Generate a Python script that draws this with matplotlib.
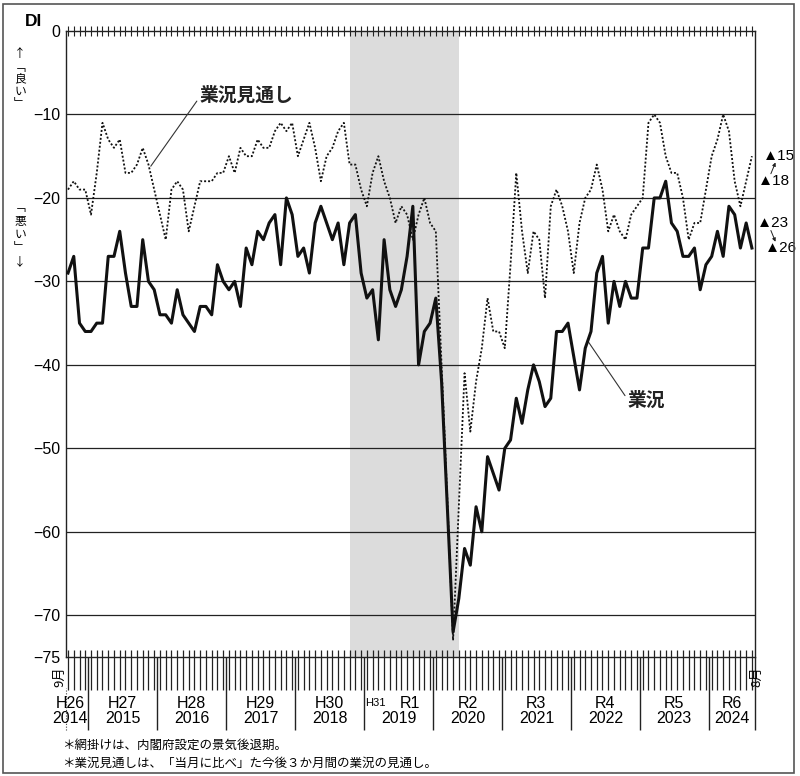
import matplotlib
matplotlib.use("Agg")
import matplotlib.pyplot as plt
from matplotlib import font_manager
from matplotlib.patches import Rectangle
import numpy as np

# 業況DI（2014年9月〜2024年8月、月次）
gyokyo = [-29, -27, -35, -36, -36, -35, -35, -27, -27, -24, -29, -33,
          -33, -25, -30, -31, -34, -34, -35, -31, -34, -35, -36, -33,
          -33, -34, -28, -30, -31, -30, -33, -26, -28, -24, -25, -23,
          -22, -28, -20, -22, -27, -26, -29, -23, -21, -23, -25, -23,
          -28, -23, -22, -29, -32, -31, -37, -25, -31, -33, -31, -27,
          -21, -40, -36, -35, -32, -42, -57, -72, -68, -62, -64, -57,
          -60, -51, -53, -55, -50, -49, -44, -47, -43, -40, -42, -45,
          -44, -36, -36, -35, -39, -43, -38, -36, -29, -27, -35, -30,
          -33, -30, -32, -32, -26, -26, -20, -20, -18, -23, -24, -27,
          -27, -26, -31, -28, -27, -24, -27, -21, -22, -26, -23, -26]

# 業況見通しDI
mitoshi = [-19, -18, -19, -19, -22, -17, -11, -13, -14, -13, -17, -17,
           -16, -14, -16, -19, -22, -25, -19, -18, -19, -24, -21, -18,
           -18, -18, -17, -17, -15, -17, -14, -15, -15, -13, -14, -14,
           -12, -11, -12, -11, -15, -13, -11, -14, -18, -15, -14, -12,
           -11, -16, -16, -19, -21, -17, -15, -18, -20, -23, -21, -22,
           -25, -22, -20, -23, -24, -40, -56, -73, -57, -41, -48, -42,
           -38, -32, -36, -36, -38, -28, -17, -24, -29, -24, -25, -32,
           -21, -19, -21, -24, -29, -23, -20, -19, -16, -19, -24, -22,
           -24, -25, -22, -21, -20, -11, -10, -11, -15, -17, -17, -20,
           -25, -23, -23, -19, -15, -13, -10, -12, -18, -21, -18, -15]

start_year, start_month = 2014, 9
recession = [(2018, 10), (2020, 5)]   # 内閣府設定の景気後退期
yticks = [0, -10, -20, -30, -40, -50, -60, -70, -75]
years = [2014, 2015, 2016, 2017, 2018, 2019, 2020, 2021, 2022, 2023, 2024]
eras = ["H26", "H27", "H28", "H29", "H30", "R1", "R2", "R3", "R4", "R5", "R6"]
notes = ["＊網掛けは、内閣府設定の景気後退期。",
         "＊業況見通しは、「当月に比べ」た今後３か月間の業況の見通し。"]


def pick(*names):
    for n in names:
        try:
            font_manager.findfont(n, fallback_to_default=False)
            return n
        except ValueError:
            pass
    return "DejaVu Sans"


jp = "Noto Sans CJK JP"
num = [pick("Liberation Sans Narrow", "Liberation Sans"), jp, "DejaVu Sans"]
plt.rcParams["font.family"] = [jp, "DejaVu Sans"]


def idx(y, m):
    return (y - start_year) * 12 + (m - start_month)


n = len(gyokyo)
x = np.arange(n)
year_of = (start_month - 1 + x) // 12 + start_year

fig = plt.figure(figsize=(8, 7.76), dpi=100)
ax = fig.add_axes([66 / 800, 1 - 657 / 776, 688.5 / 800, 626 / 776])
ax.set_xlim(-0.35, n - 0.55)
ax.set_ylim(-75, 0)

ax.axvspan(idx(*recession[0]), idx(*recession[1]), color="#dcdcdc", lw=0, zorder=0)
for v in yticks[1:-1]:
    ax.axhline(v, color="#222", lw=0.9, zorder=1)

ax.plot(x, mitoshi, color="#111", lw=1.3, ls=(0, (1.1, 1.1)), zorder=3)
ax.plot(x, gyokyo, color="#111", lw=2.2, zorder=4)

for s in ax.spines.values():
    s.set_linewidth(1.0)
    s.set_color("#222")

# y axis
ax.set_yticks(yticks)
ax.set_yticklabels([str(v).replace("-", "−") for v in yticks],
                   fontfamily=num, fontsize=11.5)
ax.tick_params(axis="y", length=0, pad=4)

# bottom month ticks
ax.xaxis.remove_overlapping_locs = False
ax.set_xticks(x)
ax.set_xticks(x, minor=True)
ax.tick_params(axis="x", which="major", direction="out", length=24, width=0.9,
               labelbottom=False, color="#222")
ax.tick_params(axis="x", which="minor", direction="in", length=5, width=0.9,
               color="#222")

# top month ticks
ax2 = ax.twiny()
ax2.set_xlim(ax.get_xlim())
ax2.set_xticks(x)
ax2.tick_params(axis="x", direction="inout", length=7, width=0.8,
                labeltop=False, color="#222")
for s in ax2.spines.values():
    s.set_visible(False)

# year separators and labels
trans = ax.get_xaxis_transform()
bounds = [x[year_of == y][0] - 0.5 for y in years[1:]] + [x[-1] + 0.45]
ax.vlines(bounds, -0.117, 0, transform=trans, clip_on=False, color="#222", lw=1.0)
ax.vlines([-0.35], -0.117, -0.05, transform=trans, clip_on=False, color="#444",
          lw=0.8, ls=(0, (1, 1.5)))

for y, era in zip(years, eras):
    months_in = x[year_of == y]
    c = (months_in[0] + months_in[-1]) / 2
    if y == years[0]:
        c = 0.35
    ax.text(c, -0.099, str(y), transform=trans, ha="center", va="center",
            fontfamily=num, fontsize=11.5)
    if y == 2019:
        h31 = months_in[:4]
        r1 = months_in[4:]
        ax.text((h31[0] + h31[-1]) / 2, -0.0735, "H31", transform=trans,
                ha="center", va="center", fontfamily=num, fontsize=8)
        ax.text((r1[0] + r1[-1]) / 2, -0.0735, era, transform=trans,
                ha="center", va="center", fontfamily=num, fontsize=11.5)
    else:
        ax.text(c, -0.0735, era, transform=trans, ha="center", va="center",
                fontfamily=num, fontsize=11.5)

ax.text(-1.4, -0.032, f"{start_month}月", transform=trans, rotation=90,
        ha="center", va="center", fontsize=9.5)
last_month = (start_month - 1 + n - 1) % 12 + 1
ax.text(n - 1 + 0.9, -0.032, f"{last_month}月", transform=trans, rotation=90,
        ha="center", va="center", fontsize=9.5)

# series labels
ax.annotate("業況見通し", xy=(14.4, -16.2), xytext=(22.9, -7.7),
            fontsize=13.5, fontweight="bold", va="center", ha="left", color="#222",
            arrowprops=dict(arrowstyle="-", color="#333", lw=0.8,
                            shrinkA=0, shrinkB=0, relpos=(0, 0.4)))
ax.annotate("業況", xy=(90.4, -37.1), xytext=(97.4, -44.3),
            fontsize=13.5, fontweight="bold", va="center", ha="left", color="#222",
            arrowprops=dict(arrowstyle="-", color="#333", lw=0.8,
                            shrinkA=0, shrinkB=0, relpos=(-0.05, 0.7)))

# latest values at right
for series, xs in ((mitoshi, (120.0, 120.9)), (gyokyo, (119.8, 121.2))):
    prev, last = series[-2], series[-1]
    ax.text(xs[0], prev, f"▲{abs(prev)}", ha="left", va="center",
            fontfamily=num, fontsize=11, clip_on=False)
    ax.text(xs[1], last, f"▲{abs(last)}", ha="left", va="center",
            fontfamily=num, fontsize=11, clip_on=False)
    ax.annotate("", xy=(123.1, prev + 0.75 * (last - prev)),
                xytext=(122.3, prev + 0.3 * (last - prev)),
                arrowprops=dict(arrowstyle="-|>", color="#222", lw=0.7,
                                mutation_scale=5, shrinkA=0, shrinkB=0),
                annotation_clip=False)

# left side texts
fig.text(33 / 800, 1 - 21 / 776, "DI", ha="center", va="center",
         fontfamily=num, fontsize=12.5, fontweight="bold")
good = ["↑", "﹁", "良", "い", "﹂"]
good_y = [53, 67, 79, 91, 103]
bad = ["﹁", "悪", "い", "﹂", "↓"]
bad_y = [208, 221, 234, 247, 262]
for ch, yy in zip(good + bad, good_y + bad_y):
    fig.text(20 / 800, 1 - yy / 776, ch, ha="center", va="center", fontsize=8.5)

for t, yy in zip(notes, [745, 763]):
    fig.text(62 / 800, 1 - yy / 776, t, ha="left", va="center", fontsize=9)

fig.patches.append(Rectangle((3 / 800, 3 / 776), 791 / 800, 769 / 776,
                             transform=fig.transFigure, fill=False,
                             ec="#555", lw=1.2))

fig.savefig("out.png", dpi=100)
